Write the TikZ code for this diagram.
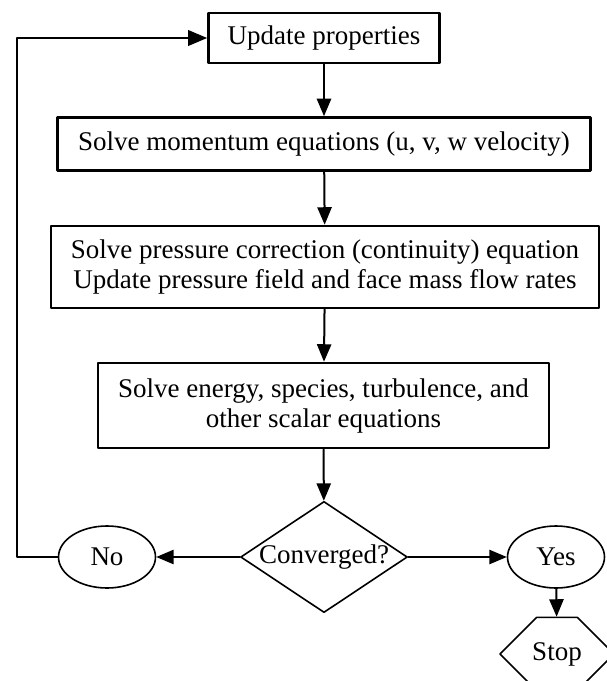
\documentclass[tikz,border=0pt]{standalone}
\usepackage{fontspec}
\setmainfont{Liberation Serif}
\usetikzlibrary{arrows,shapes.geometric,shapes.misc}
\begin{document}
\begin{tikzpicture}[line cap=round,line join=round,>=triangle 45,x=0.5pt,y=-0.5pt,
  font=\fontsize{13.5}{15}\selectfont,
  procbox/.style={draw, line width=1.4pt, inner sep=0pt, align=center},
  answer/.style={ellipse, draw, line width=0.8pt, minimum width=48.5pt, minimum height=31pt, inner sep=0pt},
  flow/.style={->, line width=1pt}]
                    \useasboundingbox (0,0) rectangle (606,681);

                    \node [procbox, minimum width=115.5pt, minimum height=25pt] (upd) at (324,38) {Update properties};
                    \node [procbox, minimum width=266.5pt, minimum height=26.5pt] (mom) at (324,144) {Solve momentum equations (u, v, w velocity)};
                    \node [procbox, minimum width=274pt, minimum height=41pt] (pres) at (325,267) {Solve pressure correction (continuity) equation\\Update pressure field and face mass flow rates};
                    \node [procbox, minimum width=225.5pt, minimum height=42.5pt] (energy) at (323.5,405.5) {Solve energy, species, turbulence, and\\other scalar equations};

                    \node [diamond, draw, line width=0.8pt, aspect=1.5, inner sep=0pt] (conv) at (324,557) {Converged?};
                    \node [answer] (no) at (107,557) {No};
                    \node [answer] (yes) at (556,557) {Yes};
                    \node [chamfered rectangle, draw, line width=0.8pt, inner sep=0pt, minimum width=57pt, minimum height=25pt,
                           chamfered rectangle xsep=9.5pt, chamfered rectangle ysep=12.4pt] (stop) at (557,654) {Stop};

                    \coordinate (loop) at (17,300);

                    \draw [flow] (upd) -- (mom);
                    \draw [flow] (mom) -- (pres);
                    \draw [flow] (pres) -- (energy);
                    \draw [flow] (energy) -- (conv);
                    \draw [flow] (conv) -- (no);
                    \draw [flow] (conv) -- (yes);
                    \draw [flow] (yes) -- (stop);
                    \draw [flow, line width=1.2pt] (no.west) -| (loop) |- (upd.west);
                \end{tikzpicture}
\end{document}
